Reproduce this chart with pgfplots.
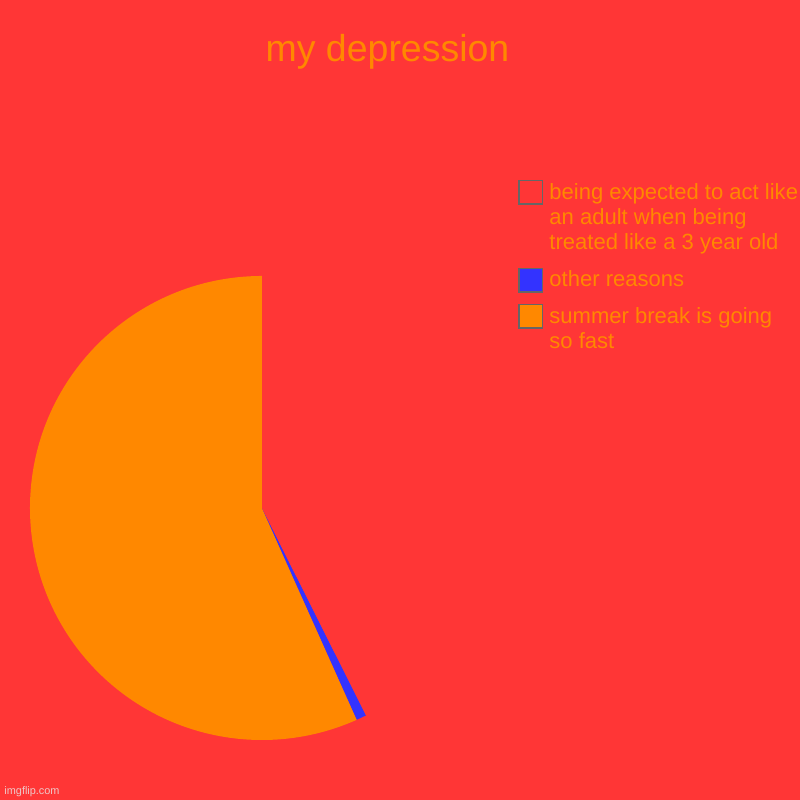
\documentclass[border=0pt]{standalone}
\usepackage{pgfplots}
\pgfplotsset{compat=1.18}
\usepackage{pgfplotstable}
\usepackage{fontspec}
\setmainfont{Liberation Sans}

\definecolor{piered}{HTML}{FF3636}
\definecolor{pieorange}{HTML}{FF8800}
\definecolor{pieblue}{HTML}{3333FF}
\definecolor{boxgray}{HTML}{666666}
\definecolor{wmark}{RGB}{238,200,200}

% share of each slice, in percent (slices run counter-clockwise from the top)
\pgfplotstableread{
value
56.7
0.7
42.6
}\piedata

\begin{document}
\begin{tikzpicture}
  \fill[piered] (0,0) rectangle (341.43pt,341.43pt);
  \useasboundingbox (0,0) rectangle (341.43pt,341.43pt);

  \pgfplotstablegetelem{0}{value}\of\piedata \let\va\pgfplotsretval
  \pgfplotstablegetelem{1}{value}\of\piedata \let\vb\pgfplotsretval
  \pgfplotstablegetelem{2}{value}\of\piedata \let\vc\pgfplotsretval
  \pgfmathsetmacro\aa{90}
  \pgfmathsetmacro\ab{\aa+3.6*\va}
  \pgfmathsetmacro\ac{\ab+3.6*\vb}
  \pgfmathsetmacro\ad{\ac+3.6*\vc}
  \def\rad{99.02pt}

  \begin{axis}[
    hide axis,
    x=99.02pt, y=99.02pt,
    xmin=-1.05, xmax=1.05,
    ymin=-1.05, ymax=1.05,
    at={(111.82pt,124.62pt)}, anchor=center,
    ]
    \fill[pieorange] (axis cs:0,0) -- ++(\aa:\rad) arc[start angle=\aa, end angle=\ab, radius=\rad] -- cycle;
    \fill[pieblue] (axis cs:0,0) -- ++(\ab:\rad) arc[start angle=\ab, end angle=\ac, radius=\rad] -- cycle;
    \fill[piered] (axis cs:0,0) -- ++(\ac:\rad) arc[start angle=\ac, end angle=\ad, radius=\rad] -- cycle;
  \end{axis}

  \begin{scope}[x=0.426786pt, y=-0.426786pt, shift={(0,-800)}]
    \node[anchor=base, text=pieorange, font=\fontsize{16}{19}\selectfont, inner sep=0] at (387.5,62) {my depression};

    \draw[boxgray, line width=0.65pt, fill=piered] (518.75,180.75) rectangle (542.25,204.25);
    \draw[boxgray, line width=0.65pt, fill=pieblue] (518.75,268.75) rectangle (542.25,292.25);
    \draw[boxgray, line width=0.65pt, fill=pieorange] (518.75,304.75) rectangle (542.25,328.25);

    \begin{scope}[every node/.style={anchor=base west, text=pieorange, inner sep=0, font=\fontsize{9.4}{11}\selectfont}]
      \node at (549,200) {being expected to act like};
      \node at (549,225) {an adult when being};
      \node at (549,250) {treated like a 3 year old};
      \node at (549,287) {other reasons};
      \node at (549,324) {summer break is going};
      \node at (549,349) {so fast};
    \end{scope}

    \node[anchor=base west, text=wmark, inner sep=0, font=\fontsize{4.65}{5}\selectfont] at (4,795) {imgflip.com};
  \end{scope}
\end{tikzpicture}
\end{document}
